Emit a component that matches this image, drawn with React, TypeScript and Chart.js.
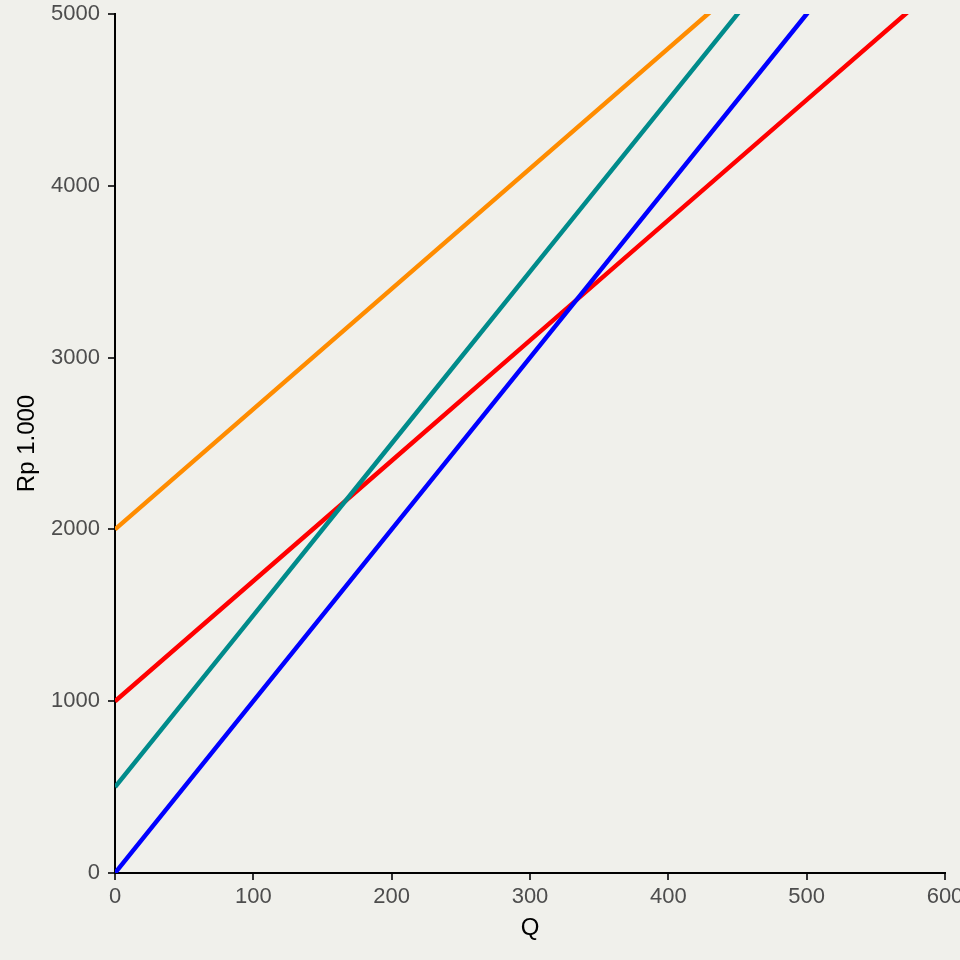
import React, { useEffect, useRef } from "react";
import { Chart, registerables } from "chart.js";

Chart.register(...registerables);

const quantities = [0, 100, 200, 300, 400, 500, 600];
const orangeSeries = [2000, 2700, 3400, 4100, 4800, 5500, 6200];
const redSeries = [1000, 1700, 2400, 3100, 3800, 4500, 5200];
const tealSeries = [500, 1500, 2500, 3500, 4500, 5500, 6500];
const blueSeries = [0, 1000, 2000, 3000, 4000, 5000, 6000];

const xTitle = "Q";
const yTitle = "Rp 1.000";

const BG = "#f0f0eb";

const bgPlugin = {
  id: "bgFill",
  beforeDraw(chart: any) {
    const ctx = chart.ctx;
    ctx.save();
    ctx.fillStyle = BG;
    ctx.fillRect(0, 0, chart.width, chart.height);
    ctx.restore();
  },
};

function toPoints(ys: number[]) {
  return quantities.map((q, i) => ({ x: q, y: ys[i] }));
}

export default function App() {
  const ref = useRef<HTMLCanvasElement | null>(null);

  useEffect(() => {
    document.body.style.margin = "0";
    document.body.style.background = BG;
    const canvas = ref.current;
    if (!canvas) return;
    const font = "Arial, 'Liberation Sans', sans-serif";
    const mk = (label: string, ys: number[], color: string) => ({
      label,
      data: toPoints(ys),
      borderColor: color,
      backgroundColor: color,
      borderWidth: 4.5,
      pointRadius: 0,
      fill: false,
      tension: 0,
      clip: 0,
    });
    const chart = new Chart(canvas, {
      type: "line",
      data: {
        datasets: [
          mk("teal", tealSeries, "#008b8b"),
          mk("blue", blueSeries, "#0000ff"),
          mk("red", redSeries, "#ff0000"),
          mk("orange", orangeSeries, "#ff8c00"),
        ],
      },
      plugins: [bgPlugin],
      options: {
        responsive: false,
        animation: false,
        layout: { padding: { left: 0, right: 15, top: 14, bottom: 0 } },
        plugins: {
          legend: { display: false },
          tooltip: { enabled: false },
        },
        scales: {
          x: {
            type: "linear",
            min: 0,
            max: 600,
            ticks: {
              stepSize: 100,
              color: "#4d4d4d",
              font: { family: font, size: 22 },
              padding: 4,
              maxRotation: 0,
              callback: (v: any) => String(v),
            },
            grid: {
              display: true,
              drawOnChartArea: false,
              drawTicks: true,
              tickLength: 7,
              color: "#333333",
              lineWidth: 2,
            },
            border: { display: true, color: "#000000", width: 2 },
            title: {
              display: true,
              text: xTitle,
              color: "#000000",
              font: { family: font, size: 24 },
              padding: { top: 0, bottom: 17 },
            },
            afterFit: (s: any) => {
              s.height = 87;
              s.paddingLeft = 0;
              s.paddingRight = 0;
            },
          },
          y: {
            type: "linear",
            min: 0,
            max: 5000,
            ticks: {
              stepSize: 1000,
              color: "#4d4d4d",
              font: { family: font, size: 22 },
              padding: 8,
              callback: (v: any) => String(v),
            },
            grid: {
              display: true,
              drawOnChartArea: false,
              drawTicks: true,
              tickLength: 7,
              color: "#333333",
              lineWidth: 2,
            },
            border: { display: true, color: "#000000", width: 2 },
            title: {
              display: true,
              text: yTitle,
              color: "#000000",
              font: { family: font, size: 24 },
              padding: { top: 13, bottom: 0 },
            },
            afterFit: (s: any) => {
              s.width = 115;
              s.paddingTop = 0;
              s.paddingBottom = 0;
            },
          },
        },
      },
    } as any);
    return () => chart.destroy();
  }, []);

  return (
    <div style={{ width: 960, height: 960, overflow: "hidden", background: BG }}>
      <canvas ref={ref} width={960} height={960} style={{ display: "block" }} />
    </div>
  );
}
